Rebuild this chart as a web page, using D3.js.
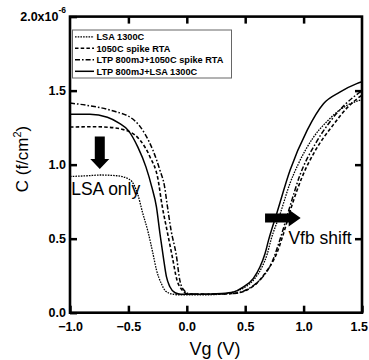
<!DOCTYPE html>
<html><head><meta charset="utf-8">
<script src="https://cdn.jsdelivr.net/npm/d3@7/dist/d3.min.js"></script>
<style>
html,body{margin:0;padding:0;background:#fff;}
svg{display:block;font-family:"Liberation Sans",Arial,sans-serif;}
</style></head>
<body><svg id="chart" width="369" height="360"></svg>
<script>
// ---- data (C in units of 1e-6 F/cm^2, Vg in V) ----
const seriesNames = ["LSA 1300C", "1050C spike RTA", "LTP 800mJ+1050C spike RTA", "LTP 800mJ+LSA 1300C"];

const vgLSA = [-1.0,-0.85,-0.74,-0.6,-0.49,-0.45,-0.42,-0.38,-0.33,-0.29,-0.26,-0.22,-0.18,-0.12,-0.05,0.1,0.3,0.4,0.5,0.585,0.645,0.69,0.72,0.80,0.884,0.952,1.08,1.198,1.31,1.5];
const cLSA  = [0.92,0.925,0.93,0.925,0.90,0.86,0.80,0.68,0.54,0.40,0.29,0.20,0.145,0.125,0.12,0.12,0.125,0.14,0.173,0.234,0.31,0.40,0.49,0.67,0.875,1.0,1.18,1.29,1.37,1.44];

const vgSpike = [-1.0,-0.8,-0.66,-0.49,-0.40,-0.315,-0.245,-0.215,-0.17,-0.127,-0.084,-0.04,0.01,0.2,0.4,0.513,0.598,0.67,0.727,0.77,0.826,0.898,0.984,1.1,1.252,1.38,1.5];
const cSpike  = [1.254,1.256,1.252,1.222,1.165,1.052,0.895,0.74,0.558,0.389,0.22,0.153,0.126,0.125,0.13,0.153,0.198,0.266,0.333,0.401,0.53,0.72,0.91,1.095,1.267,1.39,1.47];

const vgLtpSpike = [-1.0,-0.85,-0.65,-0.45,-0.36,-0.29,-0.23,-0.19,-0.17,-0.135,-0.09,-0.06,-0.025,0.03,0.2,0.4,0.507,0.592,0.67,0.73,0.80,0.884,0.969,1.1,1.226,1.36,1.5];
const cLtpSpike  = [1.416,1.40,1.367,1.30,1.21,1.097,0.962,0.85,0.74,0.558,0.389,0.22,0.153,0.126,0.125,0.13,0.153,0.197,0.261,0.342,0.50,0.72,0.93,1.14,1.29,1.41,1.50];

const vgLtpLSA = [-1.0,-0.83,-0.68,-0.58,-0.50,-0.42,-0.35,-0.30,-0.26,-0.23,-0.20,-0.175,-0.145,-0.10,-0.05,0.1,0.3,0.4,0.485,0.57,0.627,0.67,0.70,0.77,0.884,1.03,1.17,1.31,1.455,1.5];
const cLtpLSA  = [1.34,1.34,1.32,1.28,1.23,1.12,0.985,0.85,0.715,0.535,0.37,0.245,0.175,0.135,0.125,0.125,0.13,0.14,0.175,0.232,0.31,0.40,0.49,0.67,0.962,1.232,1.412,1.49,1.547,1.56];

const xTicks = [-1.0,-0.5,0.0,0.5,1.0,1.5];
const yTicks = [0.0,0.5,1.0,1.5,2.0];

// ---- layout ----
const svg = d3.select("#chart");
const x = d3.scaleLinear().domain([-1,1.5]).range([70,362]);
const y = d3.scaleLinear().domain([0,2]).range([312.7,16.6]);
const font = '"Liberation Sans",Arial,sans-serif';

const styles = [
  {dash:"1.6,1.1", w:1.3},
  {dash:"3.5,2.2", w:1.6},
  {dash:"5,2,1.6,2", w:1.5},
  {dash:null, w:1.5}
];
const series = [
  {vg:vgLSA, c:cLSA},
  {vg:vgSpike, c:cSpike},
  {vg:vgLtpSpike, c:cLtpSpike},
  {vg:vgLtpLSA, c:cLtpLSA}
];

svg.append("defs").append("clipPath").attr("id","clip")
  .append("rect").attr("x",70).attr("y",16.6).attr("width",292).attr("height",296.1);

const line = d3.line().x(d=>x(d[0])).y(d=>y(d[1])).curve(d3.curveMonotoneX);
const gLines = svg.append("g").attr("clip-path","url(#clip)");
series.forEach((s,i)=>{
  gLines.append("path")
    .datum(s.vg.map((v,k)=>[v,s.c[k]]))
    .attr("d",line)
    .attr("fill","none").attr("stroke","#000")
    .attr("stroke-width",styles[i].w)
    .attr("stroke-dasharray",styles[i].dash);
});

// ---- annotations ----
(function(){
  const cx = x(-0.745), y0 = y(1.19), y1 = y(0.97), hb = 5, hh = 9.5, headLen = 10;
  svg.append("path").attr("fill","#000")
    .attr("d",`M${cx-hb},${y0}L${cx+hb},${y0}L${cx+hb},${y1-headLen}L${cx+hh},${y1-headLen}L${cx},${y1}L${cx-hh},${y1-headLen}L${cx-hb},${y1-headLen}Z`);
})();
svg.append("text").attr("x",x(-0.99)).attr("y",y(0.795))
  .attr("font-size",17.5).attr("font-family",font).text("LSA only");

(function(){
  const cy = y(0.64), x0 = x(0.67), x1 = x(0.975), hb = 4.5, hh = 8.5, headLen = 12;
  svg.append("path").attr("fill","#000")
    .attr("d",`M${x0},${cy-hb}L${x1-headLen},${cy-hb}L${x1-headLen},${cy-hh}L${x1},${cy}L${x1-headLen},${cy+hh}L${x1-headLen},${cy+hb}L${x0},${cy+hb}Z`);
})();
svg.append("rect").attr("x",x(0.86)).attr("y",y(0.565)).attr("width",x(1.47)-x(0.86)).attr("height",y(0.44)-y(0.565)).attr("fill","#fff");
svg.append("text").attr("x",x(0.87)).attr("y",y(0.462))
  .attr("font-size",17.5).attr("font-family",font).text("Vfb shift");

// ---- axes ----
const axB = svg.append("g").attr("transform",`translate(0,${y(0)})`)
  .call(d3.axisBottom(x).tickValues(xTicks).tickFormat(d3.format(".1f")).tickSize(-7).tickPadding(9));
const axT = svg.append("g").attr("transform",`translate(0,${y(2)})`)
  .call(d3.axisTop(x).tickValues([-0.5,0,0.5,1.0]).tickFormat("").tickSize(-7));
const axL = svg.append("g").attr("transform",`translate(${x(-1)},0)`)
  .call(d3.axisLeft(y).tickValues(yTicks).tickFormat(d3.format(".1f")).tickSize(-7).tickPadding(4));
const axR = svg.append("g").attr("transform",`translate(${x(1.5)},0)`)
  .call(d3.axisRight(y).tickValues([0.5,1.0,1.5]).tickFormat("").tickSize(-7));
[axB,axT,axL,axR].forEach(g=>{
  g.select(".domain").remove();
  g.selectAll(".tick line").attr("stroke","#000").attr("stroke-width",2.5);
  g.selectAll(".tick text").attr("fill","#000").attr("font-size",12.5).attr("font-weight","bold").attr("font-family",font);
});
axB.selectAll(".tick").filter(d=>d===1.5).select("text").attr("text-anchor","end").attr("dx",5.5);
axL.selectAll(".tick").filter(d=>d===2.0).select("text").each(function(){
  const t = d3.select(this); t.text(null);
  t.append("tspan").text("2.0x10");
  t.append("tspan").attr("font-size",8.5).attr("dy","-0.9em").text("-6");
});
svg.append("rect").attr("x",x(-1)).attr("y",y(2)).attr("width",x(1.5)-x(-1)).attr("height",y(0)-y(2))
  .attr("fill","none").attr("stroke","#000").attr("stroke-width",2.6);

// ---- legend ----
const lg = svg.append("g");
lg.append("rect").attr("x",72.5).attr("y",30).attr("width",159).attr("height",48)
  .attr("fill","#fff").attr("stroke","#666").attr("stroke-width",1);
seriesNames.forEach((n,i)=>{
  const yy = 36.8 + i*11.5;
  lg.append("line").attr("x1",75).attr("x2",94).attr("y1",yy).attr("y2",yy)
    .attr("stroke","#000").attr("stroke-width",styles[i].w).attr("stroke-dasharray",styles[i].dash);
  lg.append("text").attr("x",96.5).attr("y",yy+3.4).attr("font-size",9.2).attr("font-weight","bold")
    .attr("font-family",font).text(n);
});

// ---- axis titles ----
svg.append("text").attr("x",x(0.25)-1).attr("y",355).attr("text-anchor","middle")
  .attr("font-size",18).attr("font-family",font).text("Vg (V)");
const yl = svg.append("text").attr("transform","translate(27.5,159) rotate(-90)").attr("text-anchor","middle")
  .attr("font-size",17).attr("font-family",font);
yl.append("tspan").text("C (f/cm");
yl.append("tspan").attr("font-size",11).attr("dy","-0.6em").text("2");
yl.append("tspan").attr("dy","0.4em").text(")");
</script></body></html>
